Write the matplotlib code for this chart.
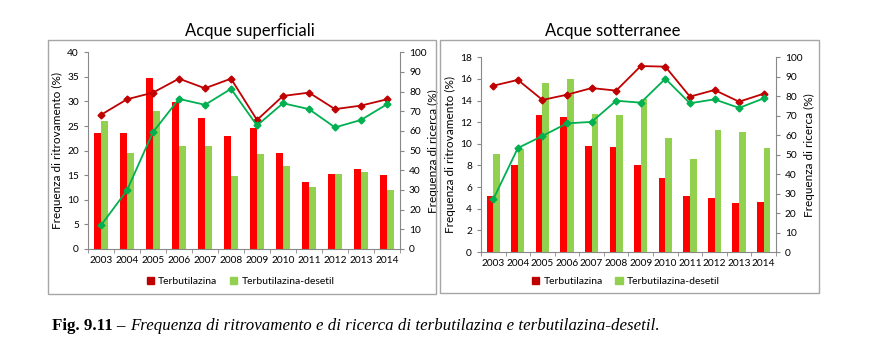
import matplotlib
matplotlib.use("Agg")
import matplotlib.pyplot as plt
import numpy as np
from matplotlib.patches import Rectangle, Patch

plt.rcParams['font.family'] = ['Lato', 'DejaVu Sans']

years = ['2003', '2004', '2005', '2006', '2007', '2008', '2009', '2010', '2011', '2012', '2013', '2014']

# Acque superficiali
sup_terb_rit = [23.5, 23.6, 34.8, 29.8, 26.7, 23.0, 24.7, 19.6, 13.6, 15.3, 16.3, 15.0]
sup_des_rit = [26.0, 19.6, 28.0, 20.9, 20.9, 14.9, 19.3, 16.9, 12.6, 15.3, 15.6, 12.0]
sup_terb_ric = [68.2, 76.1, 79.5, 86.6, 81.7, 86.6, 65.6, 77.8, 79.5, 71.1, 72.9, 76.1]
sup_des_ric = [12.0, 29.8, 59.4, 76.3, 73.3, 81.4, 62.8, 74.1, 71.1, 61.8, 65.6, 73.6]

# Acque sotterranee
sot_terb_rit = [5.2, 8.0, 12.7, 12.5, 9.8, 9.7, 8.0, 6.8, 5.2, 5.0, 4.5, 4.6]
sot_des_rit = [9.06, 9.5, 15.6, 16.0, 12.76, 12.7, 14.1, 10.5, 8.6, 11.25, 11.07, 9.65]
sot_terb_ric = [85.4, 88.4, 78.1, 80.8, 84.2, 82.9, 95.5, 95.2, 79.8, 83.2, 77.2, 81.3]
sot_des_ric = [27.1, 53.4, 59.6, 66.1, 66.8, 77.7, 76.7, 89.0, 76.4, 78.4, 74.0, 78.9]

titles = ['Acque superficiali', 'Acque sotterranee']
series_labels = ['Terbutilazina', 'Terbutilazina-desetil']
ylabel_left = 'Frequenza di ritrovamento (%)'
ylabel_right = 'Frequenza di ricerca (%)'
caption_bold = 'Fig. 9.11 \u2013 '
caption_italic = 'Frequenza di ritrovamento e di ricerca di terbutilazina e terbutilazina-desetil.'

RED_BAR = '#FF0000'
GREEN_BAR = '#92D050'
RED_LINE = '#C00000'
GREEN_LINE = '#00B050'
AXC = '#888888'

fig = plt.figure(figsize=(8.84, 3.55), dpi=100)

panels = [
    dict(rect=(0.0543, 0.1718, 0.4389, 0.7155), ax=(0.0995, 0.2986, 0.353, 0.5541),
         data=(sup_terb_rit, sup_des_rit, sup_terb_ric, sup_des_ric), ymax=40, ystep=5,
         title_xy=(0.283, 0.913), leg_x=0.272),
    dict(rect=(0.4977, 0.1746, 0.4287, 0.7127), ax=(0.5441, 0.2901, 0.3337, 0.5485),
         data=(sot_terb_rit, sot_des_rit, sot_terb_ric, sot_des_ric), ymax=18, ystep=2,
         title_xy=(0.693, 0.913), leg_x=0.708),
]

x = np.arange(len(years))
bw = 0.27
for i, p in enumerate(panels):
    fig.patches.append(Rectangle(p['rect'][:2], p['rect'][2], p['rect'][3], transform=fig.transFigure,
                                 fill=False, edgecolor='#A6A6A6', linewidth=1.0))
    ax = fig.add_axes(p['ax'])
    terb, des, terb_r, des_r = p['data']
    ax.bar(x - bw / 2, terb, bw, color=RED_BAR, zorder=2)
    ax.bar(x + bw / 2, des, bw, color=GREEN_BAR, zorder=2)
    ax.set_xlim(-0.5, len(years) - 0.5)
    ax.set_ylim(0, p['ymax'])
    ax.set_yticks(np.arange(0, p['ymax'] + 0.1, p['ystep']))
    ax.set_xticks(x)
    ax.set_xticklabels(years)
    ax.set_xticks(np.arange(-0.5, len(years)), minor=True)
    ax.tick_params(axis='x', which='major', length=0, labelsize=7.3, pad=5)
    ax.tick_params(axis='x', which='minor', length=3, color=AXC)
    ax.tick_params(axis='y', labelsize=7.3, length=3, color=AXC)
    for s in ['top', 'right']:
        ax.spines[s].set_visible(False)
    for s in ['left', 'bottom']:
        ax.spines[s].set_color(AXC)
    ax.set_ylabel(ylabel_left, fontsize=8.5, labelpad=3)

    ax2 = ax.twinx()
    ax2.plot(x, terb_r, color=RED_LINE, marker='D', ms=3.5, lw=1.3, zorder=3)
    ax2.plot(x, des_r, color=GREEN_LINE, marker='D', ms=3.5, lw=1.3, zorder=3)
    ax2.set_ylim(0, 100)
    ax2.set_yticks(np.arange(0, 101, 10))
    ax2.tick_params(axis='y', labelsize=7.3, length=3, color=AXC)
    for s in ['top', 'left', 'bottom']:
        ax2.spines[s].set_visible(False)
    ax2.spines['right'].set_color(AXC)
    ax2.set_ylabel(ylabel_right, fontsize=8.5, labelpad=1)

    fig.text(p['title_xy'][0], p['title_xy'][1], titles[i], fontsize=12, ha='center', va='center')
    handles = [Patch(color=RED_LINE), Patch(color=GREEN_BAR)]
    fig.legend(handles, series_labels, loc='center', bbox_to_anchor=(p['leg_x'], 0.208),
               ncol=2, frameon=False, fontsize=7.5, handlelength=0.7, handleheight=0.7,
               handletextpad=0.4, columnspacing=1.2)

t1 = fig.text(0.059, 0.083, caption_bold, fontsize=12.2, family='Liberation Serif', weight='bold',
              ha='left', va='center')
r = fig.canvas.get_renderer()
bb = t1.get_window_extent(renderer=r)
x2 = bb.x1 / fig.bbox.width
fig.text(x2, 0.083, caption_italic, fontsize=12.2, family='Liberation Serif', style='italic',
         ha='left', va='center')

fig.savefig('out.png', dpi=100)
